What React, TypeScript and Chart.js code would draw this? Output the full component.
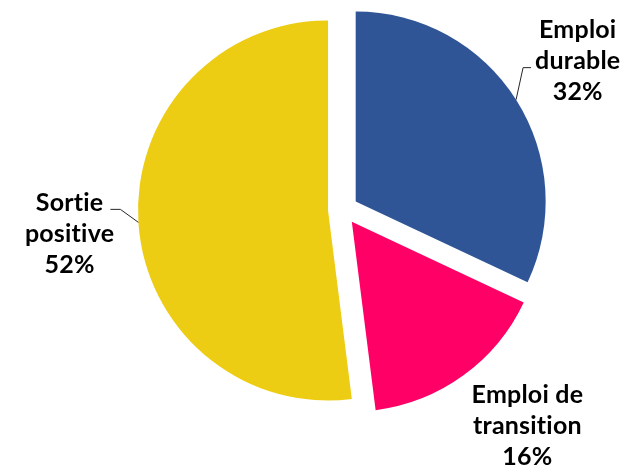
import React, { useEffect, useRef } from 'react';
import { Chart, registerables } from 'chart.js';

Chart.register(...registerables);

const categories = ['Emploi durable', 'Emploi de transition', 'Sortie positive'];
const values = [32, 16, 52];
const labelLines = [['Emploi', 'durable'], ['Emploi de', 'transition'], ['Sortie', 'positive']];
const colors = ['#2F5597', '#FF0066', '#EDCD13'];

// styling / layout
const EXPLODE = 15;
const labelDist = 278;
const labelNudge = [[0, 0], [21, -8], [4, 7]];
const leaders: (null | { elbow: [number, number]; tail: number })[] = [
  { elbow: [7, -32], tail: 8 },
  null,
  { elbow: [-18, -13], tail: -10 },
];
const FONT_FAMILY = 'Lato, "Open Sans", sans-serif';
const FONT_SIZE = 25;
const LINE_H = 31;

// explode slices along their mid-angle (Chart.js draws each arc at its own x/y)
const explodePlugin = {
  id: 'explode',
  afterUpdate(chart: any) {
    const meta = chart.getDatasetMeta(0);
    meta.data.forEach((arc: any) => {
      const mid = (arc.startAngle + arc.endAngle) / 2;
      arc.x += Math.cos(mid) * EXPLODE;
      arc.y += Math.sin(mid) * EXPLODE;
    });
  },
};

const labelPlugin = {
  id: 'outLabels',
  afterDraw(chart: any) {
    const ctx: CanvasRenderingContext2D = chart.ctx;
    const meta = chart.getDatasetMeta(0);
    const { left, right, top, bottom } = chart.chartArea;
    const ox = (left + right) / 2;
    const oy = (top + bottom) / 2;
    meta.data.forEach((arc: any, i: number) => {
      const { x, y, startAngle, endAngle, outerRadius } = arc;
      const mid = (startAngle + endAngle) / 2;

      const lead = leaders[i];
      if (lead) {
        const sx = x + Math.cos(mid) * outerRadius;
        const sy = y + Math.sin(mid) * outerRadius;
        const ex = sx + lead.elbow[0];
        const ey = sy + lead.elbow[1];
        ctx.save();
        ctx.strokeStyle = '#262626';
        ctx.lineWidth = 1;
        ctx.beginPath();
        ctx.moveTo(sx, sy);
        ctx.lineTo(ex, ey);
        ctx.lineTo(ex + lead.tail, ey);
        ctx.stroke();
        ctx.restore();
      }

      const lx = ox + Math.cos(mid) * labelDist + labelNudge[i][0];
      const ly = oy + Math.sin(mid) * labelDist + labelNudge[i][1];
      const lines = [...labelLines[i], `${values[i]}%`];
      ctx.save();
      ctx.fillStyle = '#000000';
      ctx.font = `bold ${FONT_SIZE}px ${FONT_FAMILY}`;
      (ctx as any).letterSpacing = '0.2px';
      ctx.textAlign = 'center';
      ctx.textBaseline = 'middle';
      lines.forEach((ln, k) => {
        ctx.fillText(ln, lx, ly + (k - (lines.length - 1) / 2) * LINE_H);
      });
      ctx.restore();
    });
  },
};

export default function App() {
  const ref = useRef<HTMLCanvasElement | null>(null);
  useEffect(() => {
    if (!ref.current) return;
    const chart = new Chart(ref.current, {
      type: 'pie',
      data: {
        labels: categories,
        datasets: [
          {
            data: values,
            backgroundColor: colors,
            borderWidth: 0,
            offset: 0,
            hoverOffset: 0,
          } as any,
        ],
      },
      options: {
        responsive: false,
        maintainAspectRatio: false,
        animation: false,
        radius: 190,
        layout: { padding: { left: 61, right: 0, top: 0, bottom: 50 } },
        plugins: {
          legend: { display: false },
          tooltip: { enabled: false },
        },
      } as any,
      plugins: [explodePlugin, labelPlugin],
    });
    return () => chart.destroy();
  }, []);
  return (
    <div style={{ position: 'absolute', left: 0, top: 0, width: 625, height: 469, background: '#fff' }}>
      <canvas ref={ref} width={625} height={469} />
    </div>
  );
}
